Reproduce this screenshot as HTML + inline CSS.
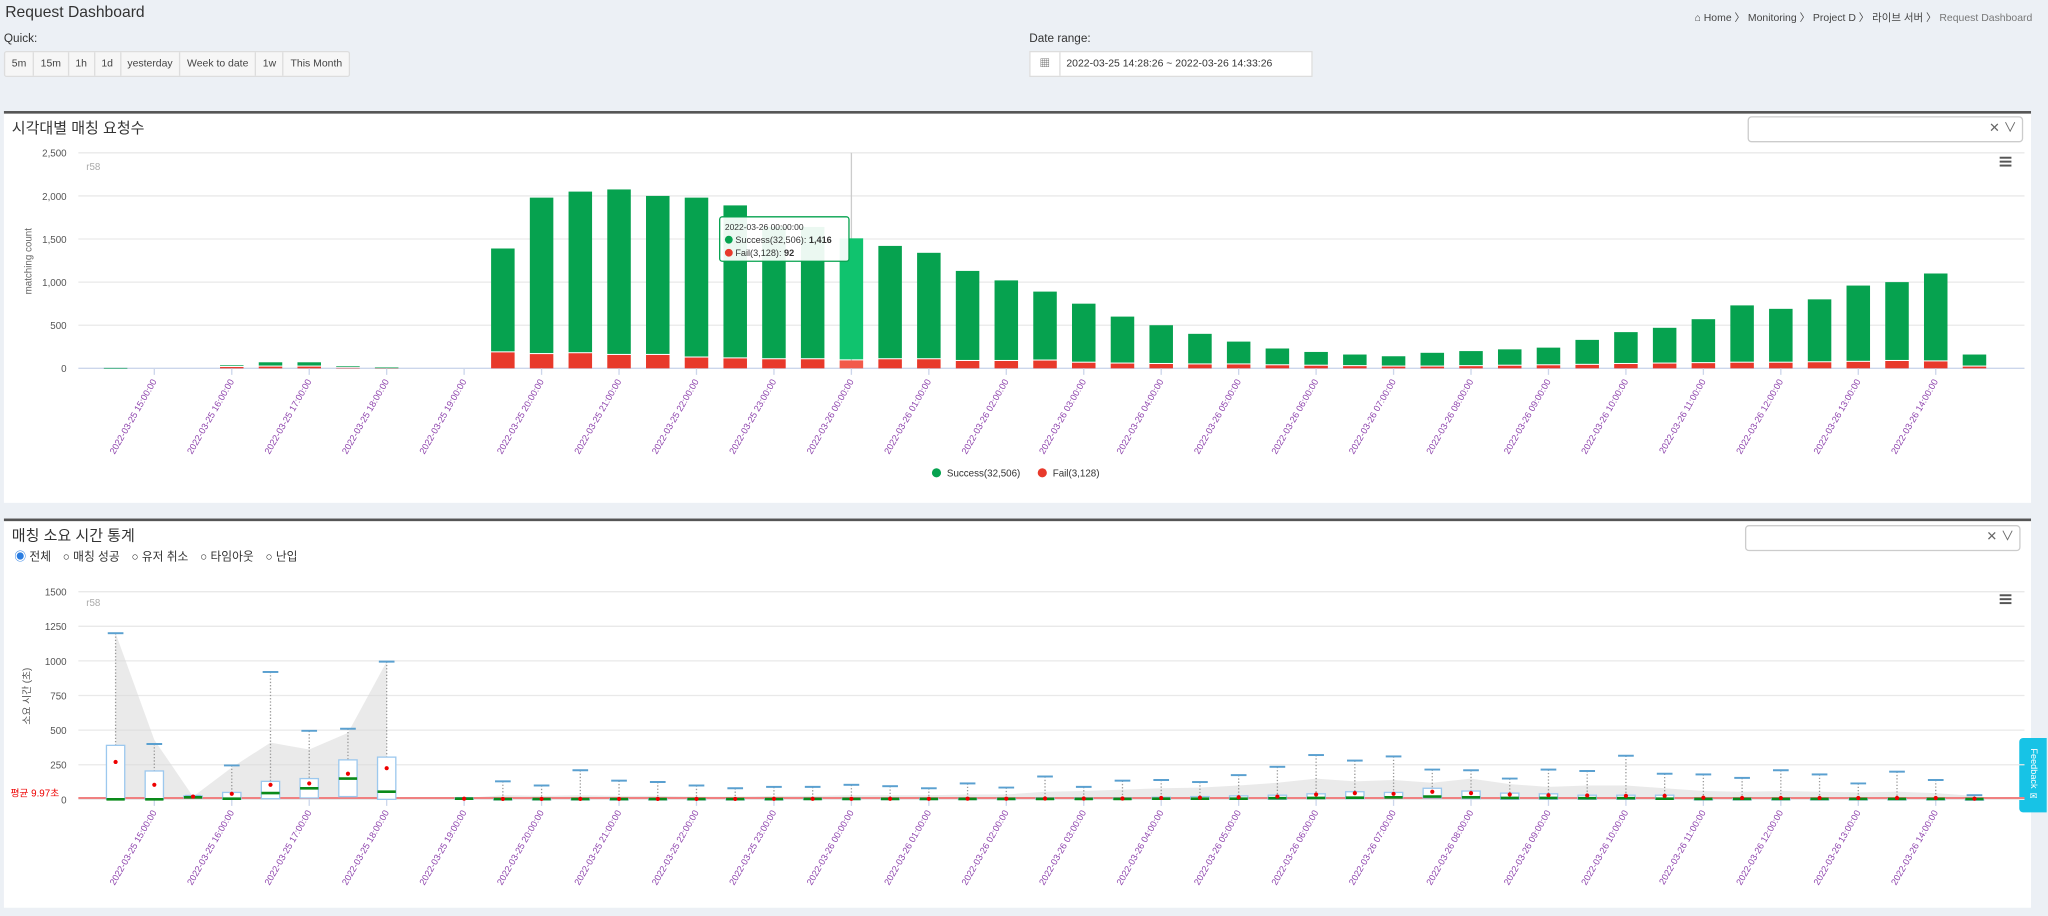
<!DOCTYPE html>
<html><head><meta charset="utf-8">
<style>
html,body{margin:0;padding:0;width:2048px;height:916px;overflow:hidden;background:#ecf0f5;}
#wrap{position:absolute;left:0;top:0;width:1568px;height:701.5px;transform:scale(1.30612);transform-origin:0 0;font-family:"Liberation Sans","Noto Sans CJK KR",sans-serif;color:#333;}
.abs{position:absolute;}
.btns{left:3px;top:39px;height:18px;display:flex;border:1px solid #ddd;background:#f6f6f6;border-radius:2px;}
.btns div{font-size:8px;padding:0 5px;line-height:18px;border-right:1px solid #ddd;color:#444;}
.btns div:last-child{border-right:none;}
.panel{background:#fff;border-top:2px solid #555;}
.sel{background:#fff;border:1px solid #ccc;border-radius:3px;}
svg text{font-family:"Liberation Sans","Noto Sans CJK KR",sans-serif;}
</style></head><body>
<div id="wrap">
<div class="abs" style="left:4px;top:2px;font-size:12px;">Request Dashboard</div>
<div class="abs" style="right:12px;top:8px;font-size:8px;color:#444;">⌂ Home 〉 Monitoring 〉 Project D 〉 라이브 서버 〉 <span style="color:#777">Request Dashboard</span></div>
<div class="abs" style="left:3px;top:24px;font-size:9px;">Quick:</div>
<div class="abs btns">
<div>5m</div><div>15m</div><div>1h</div><div>1d</div><div>yesterday</div><div>Week to date</div><div>1w</div><div>This Month</div>
</div>
<div class="abs" style="left:788px;top:24px;font-size:9px;">Date range:</div>
<div class="abs" style="left:788px;top:39px;width:215px;height:18px;background:#fff;border:1px solid #ddd;font-size:8px;line-height:18px;">
<span style="display:inline-block;width:22px;text-align:center;border-right:1px solid #ddd;color:#555;">▦</span>&nbsp; 2022-03-25 14:28:26 ~ 2022-03-26 14:33:26</div>

<div class="abs panel" style="left:3px;top:85px;width:1552px;height:298px;"></div>
<div class="abs" style="left:9px;top:90px;font-size:11.5px;">시각대별 매칭 요청수</div>
<div class="abs sel" style="left:1338px;top:89px;width:209px;height:18px;font-size:10px;color:#666;text-align:right;line-height:18px;"><span style="padding-right:4px">✕ ∨</span></div>

<div class="abs panel" style="left:3px;top:397px;width:1552px;height:296px;"></div>
<div class="abs" style="left:9px;top:402px;font-size:11.5px;">매칭 소요 시간 통계</div>
<div class="abs sel" style="left:1336px;top:402px;width:209px;height:18px;font-size:10px;color:#666;text-align:right;line-height:18px;"><span style="padding-right:4px">✕ ∨</span></div>
<div class="abs" style="left:11px;top:419px;font-size:9px;display:flex;gap:9px;">
<span><span style="color:#2a7de1">◉</span> 전체</span>
<span>○ 매칭 성공</span>
<span>○ 유저 취소</span>
<span>○ 타임아웃</span>
<span>○ 난입</span>
</div>
<div class="abs" style="left:1546px;top:565px;width:21px;height:57px;background:#17c3e6;border-radius:3px 0 0 3px;color:#fff;font-size:7px;writing-mode:vertical-rl;text-align:center;line-height:21px;">Feedback ✉</div>

<svg class="abs" id="chart1" style="left:0;top:0" width="1568" height="701"></svg>
<svg class="abs" id="chart2" style="left:0;top:0" width="1568" height="701"></svg>
</div>
<script>
// ---- chart 1 data ----
const categories1 = ["2022-03-25 14:30:00","2022-03-25 15:00:00","2022-03-25 15:30:00","2022-03-25 16:00:00","2022-03-25 16:30:00","2022-03-25 17:00:00","2022-03-25 17:30:00","2022-03-25 18:00:00","2022-03-25 18:30:00","2022-03-25 19:00:00","2022-03-25 19:30:00","2022-03-25 20:00:00","2022-03-25 20:30:00","2022-03-25 21:00:00","2022-03-25 21:30:00","2022-03-25 22:00:00","2022-03-25 22:30:00","2022-03-25 23:00:00","2022-03-25 23:30:00","2022-03-26 00:00:00","2022-03-26 00:30:00","2022-03-26 01:00:00","2022-03-26 01:30:00","2022-03-26 02:00:00","2022-03-26 02:30:00","2022-03-26 03:00:00","2022-03-26 03:30:00","2022-03-26 04:00:00","2022-03-26 04:30:00","2022-03-26 05:00:00","2022-03-26 05:30:00","2022-03-26 06:00:00","2022-03-26 06:30:00","2022-03-26 07:00:00","2022-03-26 07:30:00","2022-03-26 08:00:00","2022-03-26 08:30:00","2022-03-26 09:00:00","2022-03-26 09:30:00","2022-03-26 10:00:00","2022-03-26 10:30:00","2022-03-26 11:00:00","2022-03-26 11:30:00","2022-03-26 12:00:00","2022-03-26 12:30:00","2022-03-26 13:00:00","2022-03-26 13:30:00","2022-03-26 14:00:00","2022-03-26 14:30:00"];
const successValues = [3,0,0,20,50,50,20,5,0,0,1205,1815,1875,1920,1845,1855,1775,1535,1535,1416,1315,1235,1045,935,800,685,545,450,355,265,195,160,135,120,160,175,190,205,290,370,415,510,665,625,730,885,915,1020,140];
const failValues = [2,0,0,15,20,20,5,5,0,0,185,165,175,155,155,125,115,105,105,92,105,105,85,85,90,65,55,50,45,45,35,30,25,20,20,25,30,35,40,50,55,60,65,65,70,75,85,80,20];
const yTicks1 = [0,500,1000,1500,2000,2500];
const yTickLabels1 = ["0","500","1,000","1,500","2,000","2,500"];

// ---- chart 2 data ----
const q1Values = [0,0,10,0,5,10,20,0,null,0,0,0,0,0,0,0,0,0,0,0,0,0,0,0,0,0,0,0,0,0,0,5,5,10,10,5,0,0,0,0,0,0,0,0,0,0,0,0,0];
const medianValues = [0,0,15,5,45,80,150,55,null,5,2,2,2,2,2,2,2,2,3,3,3,3,3,3,3,3,3,5,5,5,8,10,12,15,20,15,10,10,8,8,5,3,3,3,3,3,3,3,2];
const q3Values = [390,205,25,50,130,150,285,305,null,10,5,5,5,5,5,5,5,5,8,8,8,8,8,8,10,10,10,15,20,25,30,40,55,50,80,60,45,40,30,30,30,5,5,5,5,5,5,5,3];
const maxValues = [1200,400,25,245,920,495,510,995,null,10,130,100,210,135,125,100,80,90,90,105,95,80,115,85,165,90,135,140,125,175,235,320,280,310,215,210,150,215,205,315,185,180,155,210,180,115,200,140,30];
const meanValues = [270,105,20,40,105,115,185,225,null,5,3,3,3,3,3,3,3,4,4,4,4,4,5,5,6,6,6,10,12,15,20,35,45,40,55,45,35,30,28,25,25,12,10,10,10,10,10,10,5];
const areaValues = [1200,430,20,230,410,360,480,995,null,10,30,25,30,25,25,20,20,25,25,30,30,30,35,35,55,60,70,80,85,100,120,150,130,140,120,150,110,90,100,100,80,60,55,60,55,50,55,45,25];
const yTicks2 = [0,250,500,750,1000,1250,1500];
const meanLineValue = 9.97;

const NS="http://www.w3.org/2000/svg";
function mk(svg,tag,attrs){
  const e=document.createElementNS(NS,tag);
  for(const k in attrs) e.setAttribute(k,attrs[k]);
  svg.appendChild(e); return e;
}
function xPos(i){return 88.5+i*29.65;}
const y1=v=>282-v*0.066;
const y2=v=>612-v*0.106;

// ===== chart 1 =====
const c1=document.getElementById('chart1');
const c2=document.getElementById('chart2');
yTicks1.forEach((t,k)=>{
  const g=mk(c1,'line',{x1:60,x2:1550,y1:y1(t),y2:y1(t),stroke:k==0?'#ccd6eb':'#e9e9e9','stroke-width':1});
  
  
  const tx=mk(c1,'text',{x:51,y:y1(t)+3,'font-size':7.5,'text-anchor':'end',fill:'#555'});
  tx.textContent=yTickLabels1[k];
  
  
});
let at=mk(c1,'text',{x:0,y:0,'font-size':7.5,fill:'#666','text-anchor':'middle',transform:'translate(24,200) rotate(-90)'});
at.textContent='matching count';


let r1=mk(c1,'text',{x:66,y:130,'font-size':7.5,fill:'#aaa'});r1.textContent='r58';


let ch=mk(c1,'line',{x1:xPos(19),x2:xPos(19),y1:117,y2:282,stroke:'#ccc'});


categories1.forEach((c,i)=>{
  const x=xPos(i), s=successValues[i], f=failValues[i];
  if(f>0){const b=mk(c1,'rect',{x:x-9,y:y1(f),width:18,height:y1(0)-y1(f),fill:i==19?'#f25a4a':'#e8392b'});
    
    }
  if(s>0){const b=mk(c1,'rect',{x:x-9,y:y1(f+s),width:18,height:Math.max(0.5,y1(f)-y1(f+s)-0.8),fill:i==19?'#10c36e':'#06a24f'});
    
    }
  if(i%2==1){
    const tk=mk(c1,'line',{x1:x,x2:x,y1:282,y2:287,stroke:'#ccd6eb'});
    
    
    const t=mk(c1,'text',{x:0,y:0,'font-size':7,fill:'#8e44ad','text-anchor':'end',transform:`translate(${x+2},292) rotate(-60)`});
    t.textContent=c;
    
    
  }
});
for(let k=0;k<3;k++){const h=mk(c1,'rect',{x:1531,y:120+k*3,width:9,height:1.5,fill:'#555'});
  
  }
const tt=mk(c1,'rect',{x:551,y:166,width:99,height:34,rx:2,fill:'#fff','fill-opacity':0.92,stroke:'#06a24f'});


let t1=mk(c1,'text',{x:555,y:176,'font-size':6.5,fill:'#333'});t1.textContent=categories1[19];
mk(c1,'circle',{cx:558,cy:183.5,r:3,fill:'#06a24f'});
let t2=mk(c1,'text',{x:563,y:186,'font-size':7,fill:'#333'});t2.innerHTML='Success(32,506): <tspan font-weight="bold">'+successValues[19].toLocaleString('en-US')+'</tspan>';
mk(c1,'circle',{cx:558,cy:193.5,r:3,fill:'#e8392b'});
let t3=mk(c1,'text',{x:563,y:196,'font-size':7,fill:'#333'});t3.innerHTML='Fail(3,128): <tspan font-weight="bold">'+failValues[19]+'</tspan>';
let l1=mk(c1,'circle',{cx:717,cy:362,r:3.5,fill:'#06a24f'});


let lt1=mk(c1,'text',{x:725,y:365,'font-size':7.5,fill:'#333'});lt1.textContent='Success(32,506)';
let l2=mk(c1,'circle',{cx:798,cy:362,r:3.5,fill:'#e8392b'});


let lt2=mk(c1,'text',{x:806,y:365,'font-size':7.5,fill:'#333'});lt2.textContent='Fail(3,128)';

// ===== chart 2 =====
yTicks2.forEach((t,k)=>{
  const g=mk(c2,'line',{x1:60,x2:1550,y1:y2(t),y2:y2(t),stroke:'#e9e9e9'});
  
  
  const tx=mk(c2,'text',{x:51,y:y2(t)+3,'font-size':7.5,'text-anchor':'end',fill:'#555'});
  tx.textContent=String(t);
  
  
});
for(let k=0;k<3;k++){const h=mk(c2,'rect',{x:1531,y:455+k*3,width:9,height:1.5,fill:'#555'});
  
  }
let at2=mk(c2,'text',{x:0,y:0,'font-size':7.5,fill:'#555','text-anchor':'middle',transform:'translate(23,533) rotate(-90)'});
at2.textContent='소요 시간 (초)';


let r2=mk(c2,'text',{x:66,y:464,'font-size':7.5,fill:'#aaa'});r2.textContent='r58';


let segs=[],cur=[];
areaValues.forEach((v,i)=>{ if(v==null){if(cur.length)segs.push(cur);cur=[];} else cur.push([xPos(i),y2(v)]); });
if(cur.length)segs.push(cur);
segs.forEach(sg=>{
  let d='M'+sg[0][0]+','+y2(0)+sg.map(p=>' L'+p[0]+','+p[1]).join('')+' L'+sg[sg.length-1][0]+','+y2(0)+'Z';
  const a=mk(c2,'path',{d:d,fill:'#d8d8d8','fill-opacity':0.55});
  
  
});
let ml=mk(c2,'line',{x1:60,x2:1550,y1:y2(meanLineValue),y2:y2(meanLineValue),stroke:'#f08080','stroke-width':1.5});


let mlt=mk(c2,'text',{x:8,y:y2(meanLineValue)-1,'font-size':7.5,fill:'#e00'});mlt.textContent='평균 '+meanLineValue+'초';


categories1.forEach((c,i)=>{
  const x=xPos(i);
  if(i%2==1){
    const tk=mk(c2,'line',{x1:x,x2:x,y1:612,y2:617,stroke:'#ccd6eb'});
    
    
    const t=mk(c2,'text',{x:0,y:0,'font-size':7,fill:'#8e44ad','text-anchor':'end',transform:`translate(${x+2},622) rotate(-60)`});
    t.textContent=c;
    
    
  }
  if(maxValues[i]==null) return;
  const w=mk(c2,'line',{x1:x,x2:x,y1:y2(maxValues[i]),y2:y2(q3Values[i]),stroke:'#999','stroke-dasharray':'1,1.5'});
  
  
  const cap=mk(c2,'line',{x1:x-6,x2:x+6,y1:y2(maxValues[i]),y2:y2(maxValues[i]),stroke:'#5aa0d0','stroke-width':1.5});
  
  
  const bx=mk(c2,'rect',{x:x-7,y:y2(q3Values[i]),width:14,height:Math.max(1,y2(q1Values[i])-y2(q3Values[i])),fill:'#fff',stroke:'#9cc8ee','stroke-width':1});
  
  
  const md=mk(c2,'line',{x1:x-7,x2:x+7,y1:y2(medianValues[i]),y2:y2(medianValues[i]),stroke:'#0a8a1a','stroke-width':2});
  
  
  const mn=mk(c2,'circle',{cx:x,cy:y2(meanValues[i]),r:1.6,fill:'#e00'});
  
  
});
</script>
</body></html>
